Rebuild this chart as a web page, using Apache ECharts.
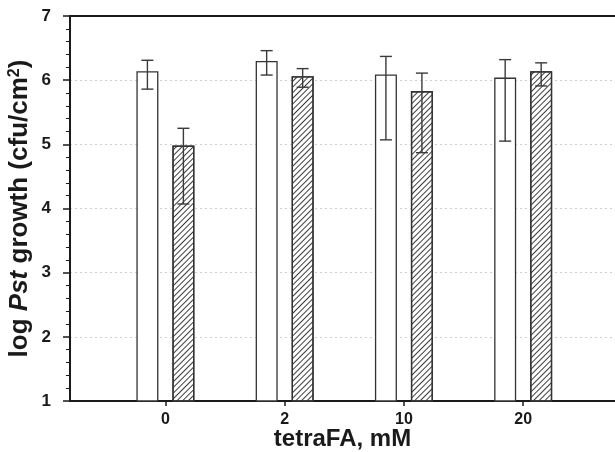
<!DOCTYPE html>
<html><head><meta charset="utf-8">
<script src="https://cdn.jsdelivr.net/npm/echarts@6/dist/echarts.min.js"></script>
<style>html,body{margin:0;padding:0;background:#fff}#c{width:615px;height:452px}</style>
</head><body><div id="c"></div>
<script>
// ---- data ----
const categories = ['0', '2', '10', '20'];
const positions = [1, 2, 3, 4];
const controlMean = [6.14, 6.30, 6.09, 6.04];
const controlLow  = [5.86, 6.08, 5.07, 5.05];
const controlHigh = [6.31, 6.46, 6.37, 6.32];
const treatedMean = [4.98, 6.06, 5.83, 6.14];
const treatedLow  = [4.07, 5.89, 4.87, 5.91];
const treatedHigh = [5.25, 6.18, 6.11, 6.27];
const yMin = 1, yMax = 7, yStep = 1;

// ---- styling constants ----
const BAR_W = 22, BAR_GAP = 14;
const OFFSET = (BAR_W + BAR_GAP) / 2;
const FONT = 'Liberation Sans, Arial, sans-serif';
const INK = '#1a1a1a';

const chart = echarts.init(document.getElementById('c'), null, {renderer: 'canvas'});

function errRender(offset) {
  return function (params, api) {
    const x = api.value(0), lo = api.value(1), hi = api.value(2);
    const pHi = api.coord([x, hi]);
    const pLo = api.coord([x, lo]);
    const cx = pHi[0] + offset;
    const cap = 6;
    const st = {stroke: '#3a3a3a', lineWidth: 1.4};
    return {
      type: 'group',
      children: [
        {type: 'line', shape: {x1: cx, y1: pHi[1], x2: cx, y2: pLo[1]}, style: st},
        {type: 'line', shape: {x1: cx - cap, y1: pHi[1], x2: cx + cap, y2: pHi[1]}, style: st},
        {type: 'line', shape: {x1: cx - cap, y1: pLo[1], x2: cx + cap, y2: pLo[1]}, style: st}
      ]
    };
  };
}

const option = {
  animation: false,
  backgroundColor: '#fff',
  grid: {left: 70, right: 0, top: 16, bottom: 51, containLabel: false, outerBoundsMode: 'none'},
  xAxis: [{
    type: 'value', min: 0.2, max: 4.77,
    name: 'tetraFA, mM', nameLocation: 'middle', nameGap: 26, nameMoveOverlap: false,
    nameTextStyle: {fontFamily: FONT, fontWeight: 'bold', fontSize: 24, color: INK},
    axisLine: {show: true, lineStyle: {color: INK, width: 2}},
    axisTick: {show: true, length: 5, lineStyle: {color: INK, width: 1.5}, customValues: positions},
    axisLabel: {fontFamily: FONT, fontWeight: 'bold', fontSize: 16, color: INK, margin: 11,
      customValues: positions,
      formatter: function (v) { const i = positions.indexOf(v); return i >= 0 ? categories[i] : ''; }},
    splitLine: {show: false}
  }, {
    type: 'value', min: 0.2, max: 4.77, position: 'top',
    axisLine: {show: true, lineStyle: {color: INK, width: 2}},
    axisTick: {show: false}, axisLabel: {show: false}, splitLine: {show: false}
  }],
  yAxis: {
    type: 'value', min: yMin, max: yMax, interval: yStep,
    name: 'log {i|Pst} growth (cfu/cm{s|2})', nameLocation: 'middle', nameGap: 37, nameMoveOverlap: false,
    nameTextStyle: {fontFamily: FONT, fontWeight: 'bold', fontSize: 26, color: INK,
      rich: {
        i: {fontFamily: FONT, fontWeight: 'bold', fontStyle: 'italic', fontSize: 26, color: INK},
        s: {fontFamily: FONT, fontWeight: 'bold', fontSize: 16, color: INK, verticalAlign: 'top'}
      }},
    axisLine: {show: true, lineStyle: {color: INK, width: 2}},
    axisTick: {show: true, length: 7, lineStyle: {color: INK, width: 1.5}},
    minorTick: {show: true, splitNumber: 5, length: 4, lineStyle: {color: INK, width: 1}},
    axisLabel: {fontFamily: FONT, fontWeight: 'bold', fontSize: 17, color: INK, margin: 19},
    splitLine: {show: true, lineStyle: {color: '#cfcfcf', type: [2, 3], width: 1}},
    minorSplitLine: {show: false}
  },
  series: [{
    type: 'bar', name: 'control',
    data: positions.map((p, i) => [p, controlMean[i]]),
    barWidth: BAR_W, barGap: (BAR_GAP / BAR_W * 100).toFixed(1) + '%',
    itemStyle: {color: '#fff', borderColor: '#333', borderWidth: 1.3},
    z: 2
  }, {
    type: 'bar', name: 'tetraFA',
    data: positions.map((p, i) => [p, treatedMean[i]]),
    barWidth: BAR_W,
    itemStyle: {color: '#fff', borderColor: '#333', borderWidth: 1.3,
      decal: {symbol: 'rect', symbolSize: 1, dashArrayX: [1, 0], dashArrayY: [1, 2.4],
        rotation: -Math.PI / 4, color: 'rgba(40,40,40,0.9)', backgroundColor: null}},
    z: 2
  }, {
    type: 'custom', name: 'controlErr', renderItem: errRender(-OFFSET),
    data: positions.map((p, i) => [p, controlLow[i], controlHigh[i]]),
    encode: {x: 0, y: [1, 2]}, z: 3
  }, {
    type: 'custom', name: 'treatedErr', renderItem: errRender(OFFSET),
    data: positions.map((p, i) => [p, treatedLow[i], treatedHigh[i]]),
    encode: {x: 0, y: [1, 2]}, z: 3
  }]
};
chart.setOption(option);
</script></body></html>
